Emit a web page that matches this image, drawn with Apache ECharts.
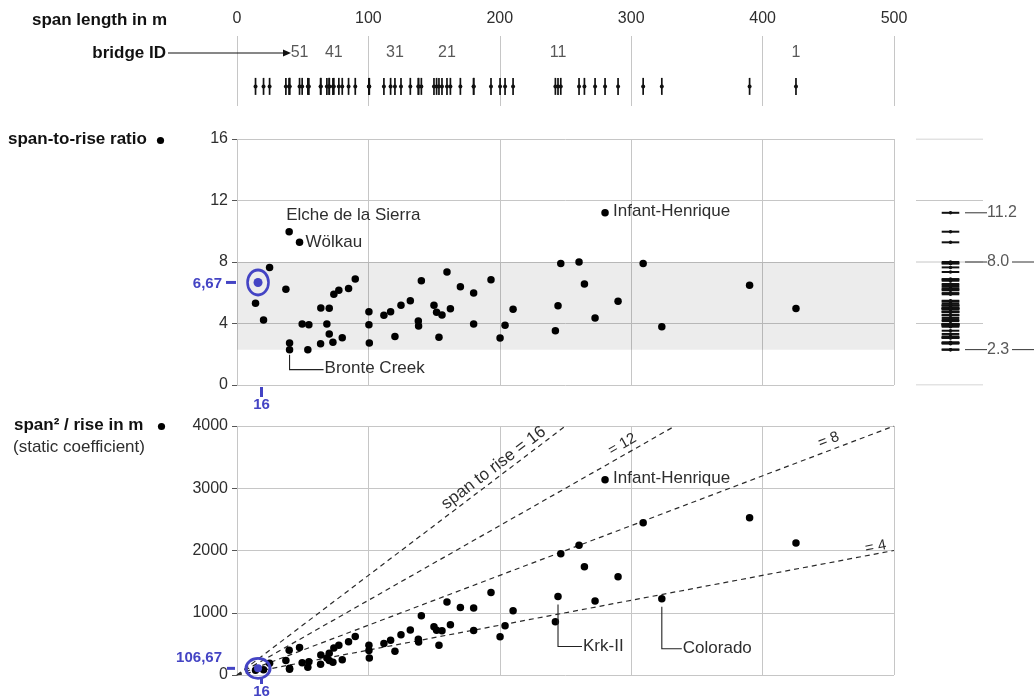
<!DOCTYPE html>
<html>
<head>
<meta charset="utf-8">
<script src="https://cdn.jsdelivr.net/npm/echarts@6/dist/echarts.min.js"></script>
<style>
html,body{margin:0;padding:0;background:#fff;}
#c{width:1034px;height:699px;}
</style>
</head>
<body>
<div id="c"></div>
<script>
// ---------------- DATA (bridges sorted by span, bridge ID = position + 1) ----------------
const spans = [425.4, 390.1, 323.3, 309.1, 290.0, 280.1, 272.5, 264.4, 260.3, 246.4,
               244.3, 242.3, 210.1, 204.0, 200.2, 193.3, 180.1, 180.1, 170.0, 162.4,
               159.8, 156.0, 153.7, 151.9, 149.9, 140.3, 138.2, 138.0, 131.9, 124.8,
               120.2, 116.9, 111.8, 100.7, 100.4, 100.4, 90.0, 84.9, 80.1, 77.5,
               73.7, 73.0, 70.2, 70.2, 68.4, 63.8, 63.6, 54.7, 53.9, 49.6,
               47.6, 40.0, 40.0, 39.7, 37.2, 24.8, 20.2, 14.1];
const ratios = [4.98, 6.48, 3.79, 7.91, 5.44, 11.2, 4.36, 6.57, 8.0, 7.91,
                5.16, 3.53, 4.92, 3.88, 3.06, 6.85, 5.98, 3.97, 6.39, 4.96,
                7.35, 4.55, 3.10, 4.73, 5.18, 6.78, 3.84, 4.16, 5.48, 5.18,
                3.16, 4.77, 4.53, 2.73, 4.77, 3.92, 6.89, 6.27, 3.08, 6.16,
                5.90, 2.78, 4.99, 3.32, 3.97, 5.01, 2.69, 3.92, 2.30, 3.97,
                9.28, 2.73, 2.30, 9.97, 6.22, 7.65, 4.23, 5.31];
const labeledIds = [1, 11, 21, 31, 41, 51];
const xTicks = [0, 100, 200, 300, 400, 500];
const ratioTicks = [0, 4, 8, 12, 16];
const coefTicks = [0, 1000, 2000, 3000, 4000];
const refRatios = [16, 12, 8, 4];
const refNames = ['span to rise = 16', '= 12', '= 8', '= 4'];
const bandRange = [2.3, 8.0];
const markedRatios = [11.2, 8.0, 2.3];
const markedTrail = [false, true, true];
const namedIds = [54, 51, 6, 53, 6, 11, 3];
const namedPanel = ['ratio', 'ratio', 'ratio', 'ratio', 'coef', 'coef', 'coef'];
const names = ['Elche de la Sierra', 'Wölkau', 'Infant-Henrique', 'Bronte Creek', 'Infant-Henrique', 'Krk-II', 'Colorado'];
const highlightSpan = 16;
const highlightRatio = 6.67;
const highlightCoef = 106.67;
const highlightLabels = ['6,67', '16', '106,67', '16'];

// static coefficient span^2/rise = span * (span/rise)
const coefs = spans.map((s, i) => s * ratios[i]);

// ---------------- STYLE / LAYOUT ----------------
const FONT = "'Liberation Sans', Arial, Helvetica, sans-serif";
const GRAY = '#c6c6c6';
const TXT = '#2e2e2e';
const BLUE = '#4444c4';
const RUG_Y = 0.28, ID_Y = 0.76;      // positions inside the top strip (0..1)
const PANEL_W = 67, RUG_X = 34.5;     // right panel (px-like units)
const MARK_L0 = 49, MARK_L1 = 71, MARK_T0 = 96, MARK_T1 = 118;

const chart = echarts.init(document.getElementById('c'), null, {renderer: 'canvas'});

function xAxisDef(i, labels) {
  return {
    type: 'value', gridIndex: i, min: 0, max: 500, interval: 100,
    position: labels ? 'top' : 'bottom',
    axisLine: {show: false}, axisTick: {show: false},
    axisLabel: {show: labels, fontSize: 16, color: TXT, margin: 9, fontFamily: FONT, formatter: v => String(v)},
    splitLine: {show: true, lineStyle: {color: GRAY, width: 1}}
  };
}
function yAxisDef(i, max, interval) {
  return {
    type: 'value', gridIndex: i, min: 0, max: max, interval: interval,
    axisLine: {show: false},
    axisTick: {show: true, length: 5, lineStyle: {color: '#555'}},
    axisLabel: {fontSize: 16, color: TXT, margin: 9, fontFamily: FONT, formatter: v => String(v)},
    splitLine: {show: true, lineStyle: {color: GRAY, width: 1}}
  };
}
const solid = c => ({color: c, opacity: 1});

const series = [];
// top rug of spans
series.push({type: 'scatter', xAxisIndex: 0, yAxisIndex: 0, silent: true, z: 3,
  data: spans.map(s => [s, RUG_Y]), symbol: 'rect', symbolSize: [1.7, 17],
  itemStyle: solid('#111')});
series.push({type: 'scatter', xAxisIndex: 0, yAxisIndex: 0, silent: true, z: 4,
  data: spans.map(s => [s, RUG_Y]), symbol: 'circle', symbolSize: 4,
  itemStyle: solid('#111')});
// bridge ID labels
series.push({type: 'scatter', xAxisIndex: 0, yAxisIndex: 0, silent: true,
  data: labeledIds.map(id => ({name: String(id), value: [spans[id - 1], ID_Y]})),
  symbolSize: 0,
  label: {show: true, position: 'inside', formatter: '{b}', fontSize: 16, color: TXT, fontFamily: FONT}});

// middle: span-to-rise ratio
series.push({type: 'scatter', xAxisIndex: 1, yAxisIndex: 1, silent: true, z: 3,
  data: spans.map((s, i) => [s, ratios[i]]), symbolSize: 7.5,
  itemStyle: solid('#000'),
  markArea: {silent: true, itemStyle: {color: 'rgba(0,0,0,0.075)'},
    data: [[{yAxis: bandRange[0]}, {yAxis: bandRange[1]}]]}});
// highlight middle
series.push({type: 'scatter', xAxisIndex: 1, yAxisIndex: 1, silent: true, z: 5, clip: false,
  data: [[highlightSpan, highlightRatio]], symbol: 'circle', symbolSize: [21, 25],
  itemStyle: {color: 'rgba(0,0,0,0)', borderColor: BLUE, borderWidth: 2.8, opacity: 1}});
series.push({type: 'scatter', xAxisIndex: 1, yAxisIndex: 1, silent: true, z: 5, clip: false,
  data: [[highlightSpan, highlightRatio]], symbol: 'circle', symbolSize: 9,
  itemStyle: solid(BLUE)});

// right panel: gridlines
ratioTicks.forEach(t => series.push({type: 'line', xAxisIndex: 2, yAxisIndex: 2, silent: true,
  data: [[0, t], [PANEL_W, t]], symbol: 'none', lineStyle: {color: GRAY, width: 1}, z: 1}));
// right rug of ratios
series.push({type: 'scatter', xAxisIndex: 2, yAxisIndex: 2, silent: true, z: 3,
  data: ratios.map(r => [RUG_X, r]), symbol: 'rect', symbolSize: [17.6, 2],
  itemStyle: solid('#111')});
series.push({type: 'scatter', xAxisIndex: 2, yAxisIndex: 2, silent: true, z: 4,
  data: ratios.map(r => [RUG_X, r]), symbol: 'circle', symbolSize: 3.5,
  itemStyle: solid('#111')});
// marked values
markedRatios.forEach((r, i) => {
  series.push({type: 'line', xAxisIndex: 2, yAxisIndex: 2, silent: true, symbol: 'none',
    data: [[MARK_L0, r], [MARK_L1, r]], lineStyle: {color: '#333', width: 1}});
  if (markedTrail[i]) series.push({type: 'line', xAxisIndex: 2, yAxisIndex: 2, silent: true, symbol: 'none',
    data: [[MARK_T0, r], [MARK_T1, r]], lineStyle: {color: '#333', width: 1}});
});
series.push({type: 'scatter', xAxisIndex: 2, yAxisIndex: 2, silent: true, clip: false,
  data: markedRatios.map(r => ({name: r.toFixed(1), value: [MARK_L1, r]})), symbolSize: 0,
  label: {show: true, position: 'inside', align: 'left', formatter: '{b}', fontSize: 16, color: TXT, fontFamily: FONT}});

// bottom: static coefficient
refRatios.forEach(k => {
  const xe = Math.min(500, 4000 / k);
  series.push({type: 'line', xAxisIndex: 3, yAxisIndex: 3, silent: true, symbol: 'none', z: 2,
    data: [[0, 0], [xe, xe * k]], lineStyle: {color: '#2a2a2a', width: 1.2, type: [5, 4]}});
});
series.push({type: 'scatter', xAxisIndex: 3, yAxisIndex: 3, silent: true, z: 3,
  data: spans.map((s, i) => [s, coefs[i]]), symbolSize: 7.5, itemStyle: solid('#000')});
series.push({type: 'scatter', xAxisIndex: 3, yAxisIndex: 3, silent: true, z: 5, clip: false,
  data: [[highlightSpan, highlightCoef]], symbol: 'circle', symbolSize: [24, 20],
  itemStyle: {color: 'rgba(0,0,0,0)', borderColor: BLUE, borderWidth: 2.8, opacity: 1}});
series.push({type: 'scatter', xAxisIndex: 3, yAxisIndex: 3, silent: true, z: 5, clip: false,
  data: [[highlightSpan, highlightCoef]], symbol: 'circle', symbolSize: 8,
  itemStyle: solid(BLUE)});

chart.setOption({
  animation: false,
  backgroundColor: '#fff',
  textStyle: {fontFamily: FONT},
  grid: [
    {left: 237, top: 36, width: 657, height: 70},
    {left: 237, top: 139, width: 657, height: 246},
    {left: 916, top: 139, width: 118, height: 246},
    {left: 237, top: 426, width: 657, height: 249}
  ],
  xAxis: [
    xAxisDef(0, true),
    xAxisDef(1, false),
    {type: 'value', gridIndex: 2, min: 0, max: 118, show: false},
    xAxisDef(3, false)
  ],
  yAxis: [
    {type: 'value', gridIndex: 0, min: 0, max: 1, show: false},
    yAxisDef(1, 16, 4),
    {type: 'value', gridIndex: 2, min: 0, max: 16, show: false},
    yAxisDef(3, 4000, 1000)
  ],
  series: series
});

// ---------------- annotations positioned through the chart's scales ----------------
const P = (g, x, y) => chart.convertToPixel({gridIndex: g}, [x, y]);
const g = [];
const txt = (x, y, text, opt) => Object.assign({type: 'text', x: x, y: y, silent: true, z: 50,
  style: Object.assign({text: text, fill: TXT, font: '17px ' + FONT, align: 'left', verticalAlign: 'middle'}, opt || {})});

// titles
g.push(txt(167, 20, 'span length in m', {fill: '#111', font: 'bold 17px ' + FONT, align: 'right'}));
g.push(txt(166, 53, 'bridge ID', {fill: '#111', font: 'bold 17px ' + FONT, align: 'right'}));
g.push({type: 'line', silent: true, shape: {x1: 168, y1: 53, x2: 284, y2: 53}, style: {stroke: '#111', lineWidth: 1.2}});
g.push({type: 'polygon', silent: true, shape: {points: [[283, 49.5], [291, 53], [283, 56.5]]}, style: {fill: '#111'}});
g.push(txt(8, 139, 'span-to-rise ratio', {fill: '#111', font: 'bold 17px ' + FONT}));
g.push({type: 'circle', silent: true, shape: {cx: 160.5, cy: 140.5, r: 3.6}, style: {fill: '#000'}});
g.push(txt(14, 425, 'span² / rise in m', {fill: '#111', font: 'bold 17px ' + FONT}));
g.push({type: 'circle', silent: true, shape: {cx: 161.5, cy: 426.5, r: 3.6}, style: {fill: '#000'}});
g.push(txt(13, 447, '(static coefficient)', {fill: TXT}));

// named bridges
const annLayout = [
  {dx: -3, dy: -16.5},
  {dx: 6, dy: 0},
  {dx: 8, dy: -1},
  {elbow: [5, 20, 34], dx: 35, dy: 19},
  {dx: 8, dy: -1},
  {elbow: [8, 50, 24], dx: 25, dy: 50},
  {elbow: [8, 50, 20], dx: 21, dy: 50}
];
namedIds.forEach((id, i) => {
  const grid = namedPanel[i] === 'ratio' ? 1 : 3;
  const yv = namedPanel[i] === 'ratio' ? ratios[id - 1] : coefs[id - 1];
  const p = P(grid, spans[id - 1], yv);
  const L = annLayout[i];
  if (L.elbow) {
    g.push({type: 'polyline', silent: true, z: 40,
      shape: {points: [[p[0], p[1] + L.elbow[0]], [p[0], p[1] + L.elbow[1]], [p[0] + L.elbow[2], p[1] + L.elbow[1]]]},
      style: {stroke: '#222', lineWidth: 1.1, fill: null}});
  }
  g.push(txt(p[0] + L.dx, p[1] + L.dy, names[i]));
});

// labels of the reference lines
const refLayout = [{at: 200, off: 10, size: 17}, {at: 297, off: 10, size: 15}, {at: 453, off: 10, size: 15}, {at: 487, off: 7, size: 15}];
refRatios.forEach((k, i) => {
  const a = P(3, 0, 0), b = P(3, 100, 100 * k);
  const ang = Math.atan2(a[1] - b[1], b[0] - a[0]);
  const c = P(3, refLayout[i].at, refLayout[i].at * k);
  const nx = -Math.sin(ang), ny = -Math.cos(ang);
  g.push({type: 'text', silent: true, z: 45, x: c[0] + nx * refLayout[i].off, y: c[1] + ny * refLayout[i].off,
    rotation: ang,
    style: {text: refNames[i], fill: TXT, font: refLayout[i].size + 'px ' + FONT, align: 'center', verticalAlign: 'middle'}});
});

// blue highlight markers on the axes
const BF = 'bold 15px ' + FONT;
let q = P(1, 0, highlightRatio);
g.push({type: 'rect', silent: true, shape: {x: q[0] - 11, y: q[1] - 1.5, width: 10, height: 3}, style: {fill: BLUE}});
g.push(txt(q[0] - 15, q[1] + 1, highlightLabels[0], {fill: BLUE, font: BF, align: 'right'}));
q = P(1, highlightSpan, 0);
g.push({type: 'rect', silent: true, shape: {x: q[0] + 2, y: q[1] + 2, width: 3, height: 10}, style: {fill: BLUE}});
g.push(txt(q[0] + 3.5, q[1] + 20, highlightLabels[1], {fill: BLUE, font: BF, align: 'center'}));
q = P(3, 0, highlightCoef);
g.push({type: 'rect', silent: true, shape: {x: q[0] - 10, y: q[1] - 1.5, width: 8, height: 3}, style: {fill: BLUE}});
g.push(txt(q[0] - 15, q[1] - 11, highlightLabels[2], {fill: BLUE, font: BF, align: 'right'}));
q = P(3, highlightSpan, 0);
g.push({type: 'rect', silent: true, shape: {x: q[0] + 2, y: q[1] + 2, width: 3, height: 7}, style: {fill: BLUE}});
g.push(txt(q[0] + 3.5, q[1] + 17, highlightLabels[3], {fill: BLUE, font: BF, align: 'center'}));

chart.setOption({graphic: {elements: g}});
</script>
</body>
</html>
